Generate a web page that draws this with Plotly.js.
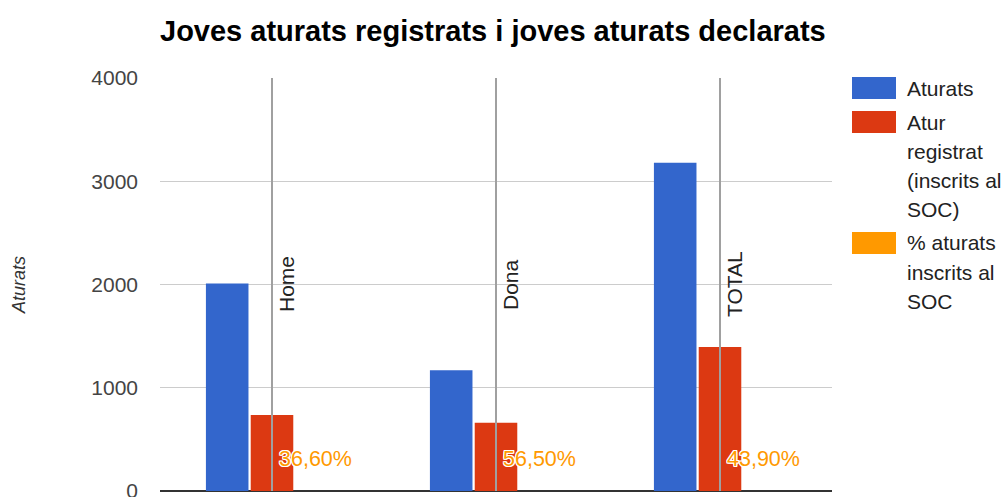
<!DOCTYPE html>
<html>
<head>
<meta charset="utf-8">
<script src="https://cdn.plot.ly/plotly-3.0.1.min.js"></script>
<style>html,body{margin:0;padding:0;background:#fff;}#chart{width:1008px;height:497px;}</style>
</head>
<body>
<div id="chart"></div>
<script>
// ---- data ----
const categories = ['Home', 'Dona', 'TOTAL'];
const aturats = [2010, 1170, 3180];
const aturRegistrat = [735, 660, 1395];
const pctInscrits = [36.6, 56.5, 43.9];
const pctLabels = ['36,60%', '56,50%', '43,90%'];
const seriesNames = ['Aturats', 'Atur registrat (inscrits al SOC)', '% aturats inscrits al SOC'];
const legendLines = [['Aturats'], ['Atur', 'registrat', '(inscrits al', 'SOC)'], ['% aturats', 'inscrits al', 'SOC']];
const yTicks = [0, 1000, 2000, 3000, 4000];
const chartTitle = 'Joves aturats registrats i joves aturats declarats';
const yTitle = 'Aturats';
const colors = ['#3366cc', '#dc3912', '#ff9900'];

// ---- layout helpers ----
const W = 1008, H = 497;
const L = 160, R = 832, T = 78, B = 491;
const PX = x => (x - L) / (R - L);
const PY = y => (B - y) / (B - T);
const FONT = 'Liberation Sans, Arial, sans-serif';

const traces = [
  {type: 'bar', name: seriesNames[0], x: categories, y: aturats, marker: {color: colors[0]}},
  {type: 'bar', name: seriesNames[1], x: categories, y: aturRegistrat, marker: {color: colors[1]}},
  {type: 'bar', name: seriesNames[2], x: categories, y: pctInscrits.map(v => v / 100), marker: {color: colors[2]}}
];

const shapes = [];
const annotations = [];

// vertical category lines + rotated labels
categories.forEach(c => {
  shapes.push({type: 'line', xref: 'x', yref: 'paper', x0: c, x1: c, y0: 0, y1: 1,
    line: {color: '#a0a0a0', width: 2}, layer: 'above'});
  annotations.push({x: c, xref: 'x', y: 0.5, yref: 'paper', text: c, textangle: -90,
    xanchor: 'left', yanchor: 'middle', showarrow: false, xshift: 1,
    font: {family: FONT, size: 21, color: '#222'}});
});

// percentage labels on the % series
categories.forEach((c, i) => {
  annotations.push({x: c, xref: 'x', y: pctInscrits[i] / 100, yref: 'y', text: pctLabels[i],
    showarrow: false, xanchor: 'center', yanchor: 'middle', xshift: 43, yshift: 32,
    font: {family: FONT, size: 21.5, color: colors[2],
      shadow: '1px 1px 0 #fff, -1px -1px 0 #fff, 1px -1px 0 #fff, -1px 1px 0 #fff, 0 1px 0 #fff, 0 -1px 0 #fff, 1px 0 0 #fff, -1px 0 0 #fff'}});
});

// custom legend
let boxTop = 77;
legendLines.forEach((lines, i) => {
  shapes.push({type: 'rect', xref: 'paper', yref: 'paper', x0: PX(852), x1: PX(896),
    y0: PY(boxTop + 22), y1: PY(boxTop), fillcolor: colors[i], line: {width: 0}});
  lines.forEach((t, j) => {
    annotations.push({xref: 'paper', yref: 'paper', x: PX(905), y: PY(boxTop + 11 + j * 29),
      xanchor: 'left', yanchor: 'middle', text: t, showarrow: false,
      font: {family: FONT, size: 21, color: '#222'}});
  });
  boxTop += (lines.length - 1) * 29 + 34;
});

const layout = {
  width: W, height: H,
  margin: {l: L, r: W - R, t: T, b: H - B, pad: 0},
  paper_bgcolor: '#fff', plot_bgcolor: '#fff',
  showlegend: false,
  barmode: 'group', bargap: 0.4, bargroupgap: 0.05,
  font: {family: FONT},
  title: {text: chartTitle, x: L / W, xref: 'container', xanchor: 'left',
    y: 1 - 31 / H, yref: 'container', yanchor: 'middle',
    font: {family: FONT, size: 29, weight: 'bold', color: '#000'}},
  xaxis: {type: 'category', range: [-0.5, 2.5], showticklabels: false, showgrid: false,
    zeroline: false, showline: false, ticks: '', fixedrange: true},
  yaxis: {range: [0, 4000], tickvals: yTicks, ticktext: yTicks.map(String),
    gridcolor: '#cccccc', gridwidth: 1.2, zeroline: true, zerolinecolor: '#333', zerolinewidth: 1.5,
    showline: false, ticks: '', ticklabelstandoff: 21, ticklabeloverflow: 'allow',
    tickfont: {family: FONT, size: 21, color: '#444'},
    title: {text: yTitle, standoff: 60, font: {family: FONT, size: 18, style: 'italic', color: '#333'}},
    fixedrange: true},
  shapes: shapes,
  annotations: annotations
};

Plotly.newPlot('chart', traces, layout, {displayModeBar: false, staticPlot: true});
</script>
</body>
</html>
